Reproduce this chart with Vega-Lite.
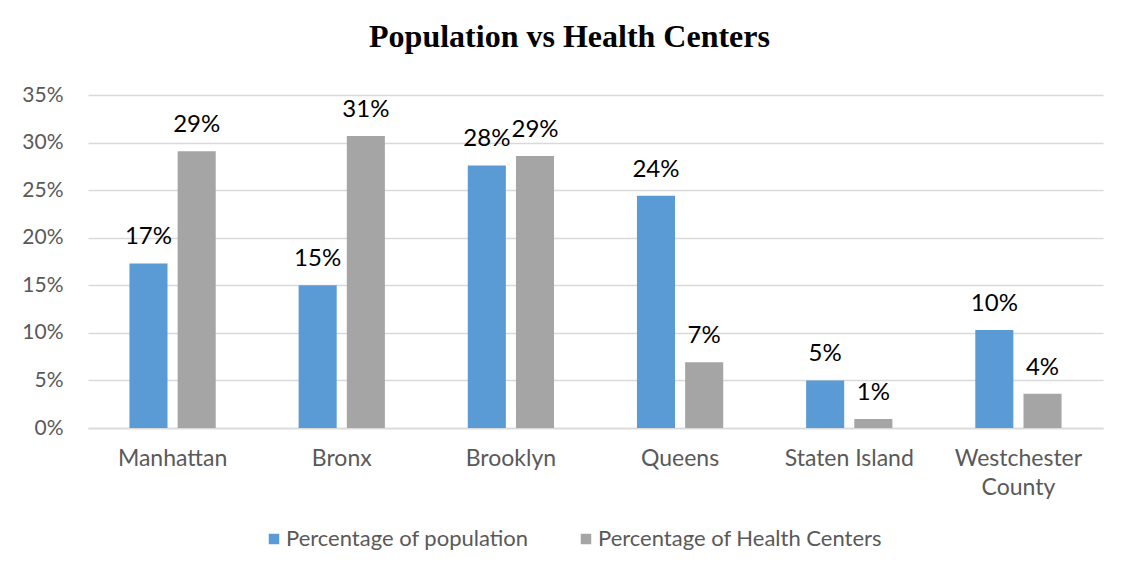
{
  "$schema": "https://vega.github.io/schema/vega-lite/v6.json",
  "autosize": {"type": "none"},
  "width": 1015,
  "height": 333,
  "padding": {"left": 88, "top": 95, "right": 22, "bottom": 150},
  "background": "white",
  "title": {
    "text": "Population vs Health Centers",
    "font": "Liberation Serif",
    "fontSize": 32,
    "fontWeight": "bold",
    "color": "#000000",
    "anchor": "middle",
    "dx": -26,
    "offset": 30
  },
  "data": {
    "values": [
      {"county": "Manhattan", "series": "Percentage of population", "value": 0.173},
      {"county": "Manhattan", "series": "Percentage of Health Centers", "value": 0.291},
      {"county": "Bronx", "series": "Percentage of population", "value": 0.150},
      {"county": "Bronx", "series": "Percentage of Health Centers", "value": 0.307},
      {"county": "Brooklyn", "series": "Percentage of population", "value": 0.276},
      {"county": "Brooklyn", "series": "Percentage of Health Centers", "value": 0.286},
      {"county": "Queens", "series": "Percentage of population", "value": 0.244},
      {"county": "Queens", "series": "Percentage of Health Centers", "value": 0.069},
      {"county": "Staten Island", "series": "Percentage of population", "value": 0.050},
      {"county": "Staten Island", "series": "Percentage of Health Centers", "value": 0.0095},
      {"county": "Westchester County", "series": "Percentage of population", "value": 0.103},
      {"county": "Westchester County", "series": "Percentage of Health Centers", "value": 0.036}
    ]
  },
  "encoding": {
    "x": {
      "field": "county",
      "type": "nominal",
      "sort": null,
      "scale": {"paddingInner": 0.49, "paddingOuter": 0.245},
      "axis": {
        "title": null,
        "labelAngle": 0,
        "labelFont": "Lato",
        "labelFontSize": 23,
        "labelColor": "#595959",
        "labelPadding": 19,
        "labelLineHeight": 29,
        "labelLimit": 0,
        "ticks": false,
        "domainColor": "#D9D9D9",
        "domainWidth": 1.5,
        "labelExpr": "datum.label == 'Westchester County' ? ['Westchester', 'County'] : datum.label"
      }
    },
    "xOffset": {
      "field": "series",
      "type": "nominal",
      "sort": ["Percentage of population", "Percentage of Health Centers"],
      "scale": {"paddingInner": 0.21, "paddingOuter": 0}
    },
    "y": {
      "field": "value",
      "type": "quantitative",
      "scale": {"domain": [0, 0.35], "nice": false},
      "axis": {
        "title": null,
        "format": ".0%",
        "values": [0, 0.05, 0.1, 0.15, 0.2, 0.25, 0.3, 0.35],
        "labelFont": "Lato",
        "labelFontSize": 21,
        "labelColor": "#595959",
        "labelPadding": 25,
        "ticks": false,
        "domain": false,
        "gridColor": "#D9D9D9",
        "gridWidth": 1.5
      }
    }
  },
  "layer": [
    {
      "mark": {"type": "bar"},
      "encoding": {
        "color": {
          "field": "series",
          "type": "nominal",
          "sort": ["Percentage of population", "Percentage of Health Centers"],
          "scale": {"range": ["#5B9BD5", "#A5A5A5"]},
          "legend": {
            "title": null,
            "orient": "none",
            "direction": "horizontal",
            "legendX": 175,
            "legendY": 433,
            "symbolType": "square",
            "symbolSize": 110,
            "symbolStrokeWidth": 0,
            "labelFont": "Lato",
            "labelFontSize": 22,
            "labelColor": "#595959",
            "labelLimit": 0,
            "columnPadding": 46,
            "labelOffset": 1
          }
        }
      }
    },
    {
      "mark": {
        "type": "text",
        "baseline": "alphabetic",
        "dy": -19,
        "font": "Lato",
        "fontSize": 24,
        "color": "#000000"
      },
      "encoding": {
        "text": {"field": "value", "type": "quantitative", "format": ".0%"}
      }
    }
  ],
  "config": {
    "view": {"stroke": null}
  }
}
